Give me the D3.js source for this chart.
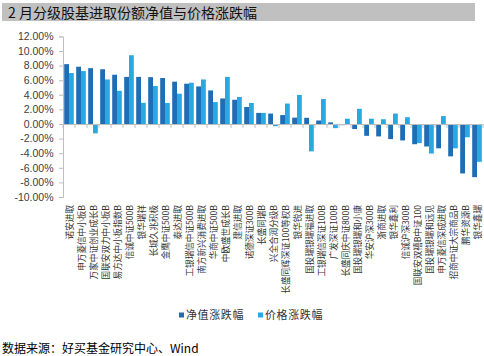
<!DOCTYPE html>
<html><head><meta charset="utf-8">
<script src="https://cdn.jsdelivr.net/npm/d3@7"></script>
<style>body{margin:0;background:#fff;}svg{display:block;}</style>
</head><body>
<script>
const categories = ["诺安进取","申万菱信中小板B","万家中证创业成长B","国联安双力中小板B","易方达中小板指数B","信诚中证500B","银华瑞祥","长城久兆积极","金鹰中证500B","泰达进取","工银瑞信中证500B","南方新兴消费进取","华商中证500B","中欧盛世成长B","建信进取","诺德深证300B","长盛同瑞B","兴全合润分级B","长盛同辉深证100等权B","银华锐进","国投瑞银瑞福进取","工银瑞信深证100B","广发深证100B","长盛同庆中证800B","国投瑞银瑞和小康","华安沪深300B","浙商进取","银华鑫利","信诚沪深300B","国联安双禧B中证100","国投瑞银瑞和远见","申万菱信深成进取","招商中证大宗商品B","鹏华资源B","银华鑫瑞"];
const navChange = [8.2,7.85,7.65,7.5,6.75,6.45,6.45,6.42,6.3,5.8,5.52,5.15,4.6,3.5,3.32,2.33,1.52,1.43,1.22,0.87,0.85,0.48,0.22,-0.16,-0.69,-1.62,-1.7,-2.07,-2.25,-2.77,-3.08,-3.33,-4.43,-6.78,-7.28];
const priceChange = [6.98,7.25,-1.28,6.1,4.55,9.42,2.9,5.2,2.88,4.15,5.65,6.1,3.0,6.45,3.7,2.88,1.52,-0.3,2.8,3.98,-3.75,3.42,-0.57,0.72,2.08,0.72,0.65,1.43,0.93,-2.62,-4.05,1.08,-3.33,-1.82,-5.18];
const seriesNames = ["净值涨跌幅","价格涨跌幅"];
const yTicks = [-10,-8,-6,-4,-2,0,2,4,6,8,10,12];

const W = 484, H = 356;
const colors = ["#1f6db4","#29a9e1"];
const svg = d3.select("body").append("svg").attr("width", W).attr("height", H);

// title bar
svg.append("rect").attr("x",2).attr("y",3).attr("width",473).attr("height",18).attr("fill","#c0c0c0");
svg.append("text").attr("x",8).attr("y",17.5).attr("font-family","'Noto Sans CJK SC'").attr("font-size",14).attr("fill","#111")
  .text("2 月分级股基进取份额净值与价格涨跌幅");

const pLeft = 63, pRight = 483, pTop = 36.4, pBottom = 197;
const x0 = d3.scaleBand().domain(categories).range([pLeft, pRight]).paddingInner(0.2).paddingOuter(0.1);
const step = x0.step();
const x1 = d3.scaleBand().domain([0,1]).range([0, x0.bandwidth()]);
const y = d3.scaleLinear().domain([-10, 12]).range([pBottom, pTop]);

// y axis
const yAxis = d3.axisLeft(y).tickValues(yTicks).tickSize(4).tickFormat(d => d.toFixed(2) + "%");
const gy = svg.append("g").attr("transform", `translate(${pLeft},0)`).call(yAxis);
gy.select(".domain").attr("stroke","#bfbfbf");
gy.selectAll(".tick line").attr("stroke","#bfbfbf");
gy.selectAll("text").attr("font-family","'Liberation Sans', Arial, sans-serif").attr("font-size",10.5).attr("fill","#404040").attr("x",-9.5);

// bars
const data = categories.map((c,i) => ({c, v:[navChange[i], priceChange[i]]}));
const groups = svg.append("g").selectAll("g").data(data).join("g")
  .attr("transform", d => `translate(${x0(d.c)},0)`);
groups.selectAll("rect").data(d => d.v.map((v,k)=>({v,k}))).join("rect")
  .attr("x", d => x1(d.k)).attr("width", x1.bandwidth())
  .attr("y", d => y(Math.max(0,d.v))).attr("height", d => Math.abs(y(d.v)-y(0)))
  .attr("fill", d => colors[d.k]);

// zero axis with category ticks
const xAxis = d3.axisBottom(x0).tickSize(0).tickFormat("");
const gx = svg.append("g").attr("transform", `translate(0,${y(0)})`).call(xAxis);
gx.select(".domain").attr("stroke","#bfbfbf");
gx.selectAll(".tick").remove();
svg.append("g").selectAll("line").data(d3.range(categories.length+1)).join("line")
  .attr("x1", i => pLeft + i*step).attr("x2", i => pLeft + i*step)
  .attr("y1", y(0)).attr("y2", y(0)+4).attr("stroke","#bfbfbf");

// category labels (rotated)
svg.append("g").selectAll("text").data(categories).join("text")
  .attr("transform", d => `translate(${x0(d)+x0.bandwidth()/2+3.5},${205}) rotate(-90)`)
  .attr("text-anchor","end")
  .attr("font-family","'Noto Sans CJK SC'").attr("font-size",8.6).attr("fill","#333")
  .text(d => d);

// legend
const legend = svg.append("g");
const lx = [179, 258];
seriesNames.forEach((n,k) => {
  legend.append("rect").attr("x", lx[k]).attr("y", 312.5).attr("width",5).attr("height",5).attr("fill",colors[k]);
  legend.append("text").attr("x", lx[k]+7).attr("y", 319).attr("font-family","'Noto Sans CJK SC'").attr("font-size",11).attr("fill","#333").attr("letter-spacing","0.6").text(n);
});

// source
svg.append("text").attr("x",2).attr("y",353).attr("font-family","'Noto Sans CJK SC'").attr("font-size",12).attr("fill","#000")
  .text("数据来源：好买基金研究中心、Wind");
</script>
</body></html>
